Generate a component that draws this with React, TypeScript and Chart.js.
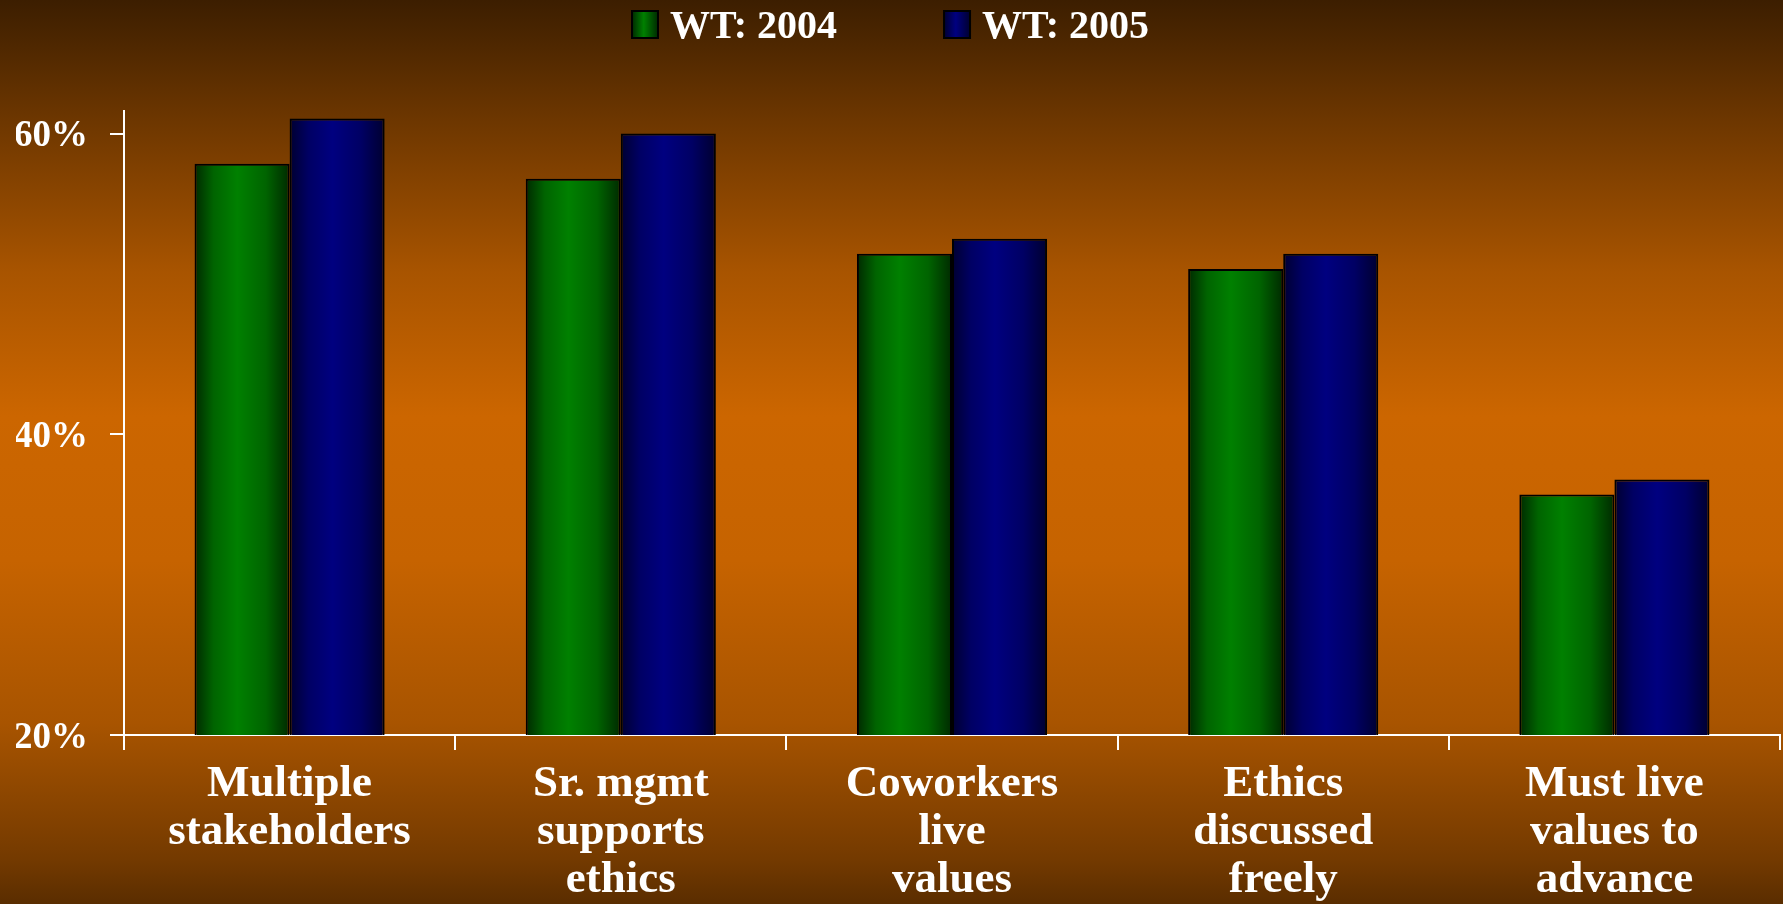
import React, { useEffect, useRef } from "react";
import { Chart, registerables } from "chart.js";

Chart.register(...registerables);

const categories: string[][] = [
  ["Multiple", "stakeholders"],
  ["Sr. mgmt", "supports", "ethics"],
  ["Coworkers", "live", "values"],
  ["Ethics", "discussed", "freely"],
  ["Must live", "values to", "advance"],
];
const wt2004: number[] = [58, 57, 52, 51, 36];
const wt2005: number[] = [61, 60, 53, 52, 37];
const yTicks: number[] = [20, 40, 60];
const seriesNames: string[] = ["WT: 2004", "WT: 2005"];

const FONT = "'Liberation Serif', 'Times New Roman', serif";

const palette = [
  { base: "#008000", dark: "#002a00", mid: "#006400" },
  { base: "#000080", dark: "#000030", mid: "#000064" },
];

const bgPlugin = {
  id: "bgGradient",
  beforeDraw(chart: any) {
    const { ctx, width, height } = chart;
    const g = ctx.createLinearGradient(0, 0, 0, height);
    g.addColorStop(0, "#3c1e00");
    g.addColorStop(0.13, "#6c3600");
    g.addColorStop(0.3, "#a85400");
    g.addColorStop(0.46, "#cc6600");
    g.addColorStop(0.62, "#c66300");
    g.addColorStop(0.8, "#a85400");
    g.addColorStop(0.95, "#743a00");
    g.addColorStop(1, "#5a2d00");
    ctx.save();
    ctx.fillStyle = g;
    ctx.fillRect(0, 0, width, height);
    ctx.restore();
  },
};

const barGradientPlugin = {
  id: "barGradient",
  beforeDatasetsDraw(chart: any) {
    const { ctx } = chart;
    chart.data.datasets.forEach((_ds: any, di: number) => {
      const meta = chart.getDatasetMeta(di);
      const p = palette[di % palette.length];
      meta.data.forEach((bar: any) => {
        const w = bar.width;
        const x0 = bar.x - w / 2;
        const g = ctx.createLinearGradient(x0, 0, x0 + w, 0);
        g.addColorStop(0, p.dark);
        g.addColorStop(0.2, p.mid);
        g.addColorStop(0.45, p.base);
        g.addColorStop(0.75, p.mid);
        g.addColorStop(1, p.dark);
        bar.options = Object.assign({}, bar.options, { backgroundColor: g });
      });
    });
  },
};

const legendPlugin = {
  id: "customLegend",
  afterDraw(chart: any) {
    const { ctx } = chart;
    ctx.save();
    ctx.font = `bold 40px ${FONT}`;
    ctx.textBaseline = "alphabetic";
    ctx.textAlign = "left";
    const boxW = 26;
    const boxH = 27;
    const gapText = 12;
    const gapItem = 107;
    let x = 632;
    const top = 11;
    chart.data.datasets.forEach((ds: any, di: number) => {
      const p = palette[di % palette.length];
      const g = ctx.createLinearGradient(x, 0, x + boxW, 0);
      g.addColorStop(0, p.dark);
      g.addColorStop(0.45, p.base);
      g.addColorStop(1, p.dark);
      ctx.fillStyle = g;
      ctx.fillRect(x, top, boxW, boxH);
      ctx.lineWidth = 2;
      ctx.strokeStyle = "#000000";
      ctx.strokeRect(x, top, boxW, boxH);
      ctx.fillStyle = "#ffffff";
      const tx = x + boxW + gapText;
      ctx.fillText(ds.label, tx, 38);
      x = tx + ctx.measureText(ds.label).width + gapItem;
    });
    ctx.restore();
  },
};

export default function App() {
  const canvasRef = useRef<HTMLCanvasElement | null>(null);

  useEffect(() => {
    if (!canvasRef.current) return;
    const chart = new Chart(canvasRef.current, {
      type: "bar",
      data: {
        labels: categories,
        datasets: [
          {
            label: seriesNames[0],
            data: wt2004,
            backgroundColor: palette[0].base,
            borderColor: "#000000",
            borderWidth: 2,
            categoryPercentage: 0.574,
            barPercentage: 1.0,
          },
          {
            label: seriesNames[1],
            data: wt2005,
            backgroundColor: palette[1].base,
            borderColor: "#000000",
            borderWidth: 2,
            categoryPercentage: 0.574,
            barPercentage: 1.0,
          },
        ],
      },
      options: {
        responsive: false,
        animation: false,
        layout: { padding: { left: 16, right: 3, top: 111, bottom: 0 } },
        plugins: {
          legend: { display: false },
          tooltip: { enabled: false },
          title: { display: false },
        },
        scales: {
          x: {
            z: 1,
            afterFit: (scale: any) => {
              scale.height = 169;
            },
            grid: {
              offset: true,
              drawOnChartArea: false,
              drawTicks: true,
              tickLength: 15,
              color: "#ffffff",
              lineWidth: 2,
            },
            border: { color: "#ffffff", width: 2 },
            ticks: {
              color: "#ffffff",
              autoSkip: false,
              maxRotation: 0,
              minRotation: 0,
              padding: 10,
              font: { family: FONT, size: 45, weight: "bold", lineHeight: 48 / 45 },
            },
          },
          y: {
            min: 20,
            max: 61.5,
            afterFit: (scale: any) => {
              scale.width = 108;
            },
            afterBuildTicks: (scale: any) => {
              scale.ticks = yTicks.map((v) => ({ value: v }));
            },
            grid: {
              drawOnChartArea: false,
              drawTicks: true,
              tickLength: 14,
              color: "#ffffff",
              lineWidth: 2,
            },
            border: { color: "#ffffff", width: 2 },
            ticks: {
              color: "#ffffff",
              padding: 22,
              labelOffset: 3,
              callback: (v: any) => `${v}%`,
              font: { family: FONT, size: 37, weight: "bold" },
            },
          },
        },
      },
      plugins: [bgPlugin, barGradientPlugin, legendPlugin],
    });
    return () => chart.destroy();
  }, []);

  return (
    <div style={{ position: "absolute", left: 0, top: 0, width: 1783, height: 904, overflow: "hidden" }}>
      <canvas ref={canvasRef} width={1783} height={904} style={{ display: "block", width: 1783, height: 904 }} />
    </div>
  );
}
